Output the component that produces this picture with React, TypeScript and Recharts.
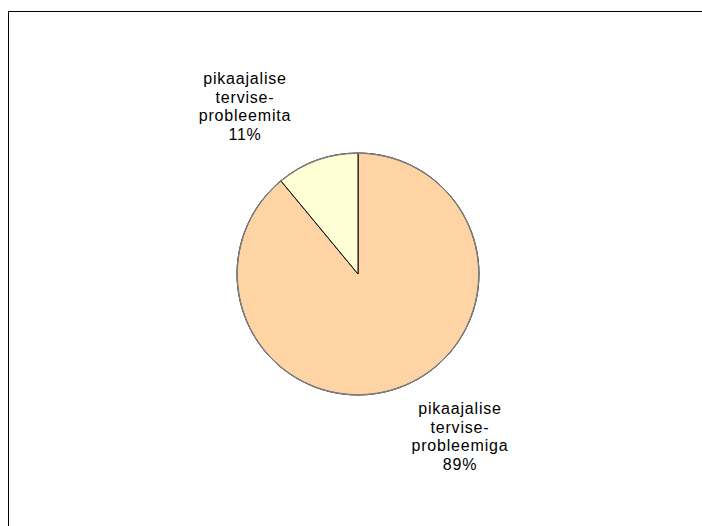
import { PieChart, Pie, Cell } from "recharts";

const categories = ["pikaajalise tervise-probleemiga", "pikaajalise tervise-probleemita"];
const labelLines = [
  ["pikaajalise", "tervise-", "probleemiga"],
  ["pikaajalise", "tervise-", "probleemita"],
];
const shares = [89, 11];
const colors = ["#FFD4A4", "#FFFFD5"];

const data = categories.map((name, i) => ({ name, value: shares[i], lines: labelLines[i] }));

const RAD = Math.PI / 180;

function renderLabel(props: any) {
  const { cx, cy, midAngle, outerRadius, index, percent } = props;
  const ax = cx + outerRadius * Math.cos(-midAngle * RAD);
  const ay = cy + outerRadius * Math.sin(-midAngle * RAD);
  const x = ax + (ax < cx ? -72 : 61);
  const centerY = ay + (ay < cy ? -54 : 48);
  const lineH = 18.5;
  const firstBase = centerY - 1.5 * lineH + 6;
  const rows = [...data[index].lines, `${Math.round(percent * 100)}%`];
  return (
    <text
      x={x}
      y={firstBase}
      textAnchor="middle"
      fill="#000"
      fontSize={16}
      letterSpacing={0.8}
      fontFamily="'Liberation Sans', Arial, sans-serif"
    >
      {rows.map((r, i) => (
        <tspan key={i} x={x} y={firstBase + i * lineH}>
          {r}
        </tspan>
      ))}
    </text>
  );
}

export default function App() {
  return (
    <div
      style={{
        position: "fixed",
        left: 8,
        top: 11,
        width: 720,
        height: 540,
        borderTop: "1px solid #000",
        borderLeft: "1px solid #000",
        background: "#fff",
      }}
    >
      <PieChart width={694} height={515} margin={{ top: 0, right: 0, bottom: 0, left: 0 }}>
        <Pie
          data={data}
          dataKey="value"
          cx={349}
          cy={262}
          outerRadius={121}
          startAngle={90}
          endAngle={-270}
          stroke="#000"
          strokeWidth={1}
          label={renderLabel}
          labelLine={false}
          isAnimationActive={false}
        >
          {data.map((d, i) => (
            <Cell key={d.name} fill={colors[i]} />
          ))}
        </Pie>
        <Pie
          data={data}
          dataKey="value"
          cx={349}
          cy={262}
          innerRadius={120.6}
          outerRadius={121}
          startAngle={90}
          endAngle={-270}
          fill="none"
          stroke="#808080"
          strokeWidth={1}
          isAnimationActive={false}
        />
      </PieChart>
    </div>
  );
}
